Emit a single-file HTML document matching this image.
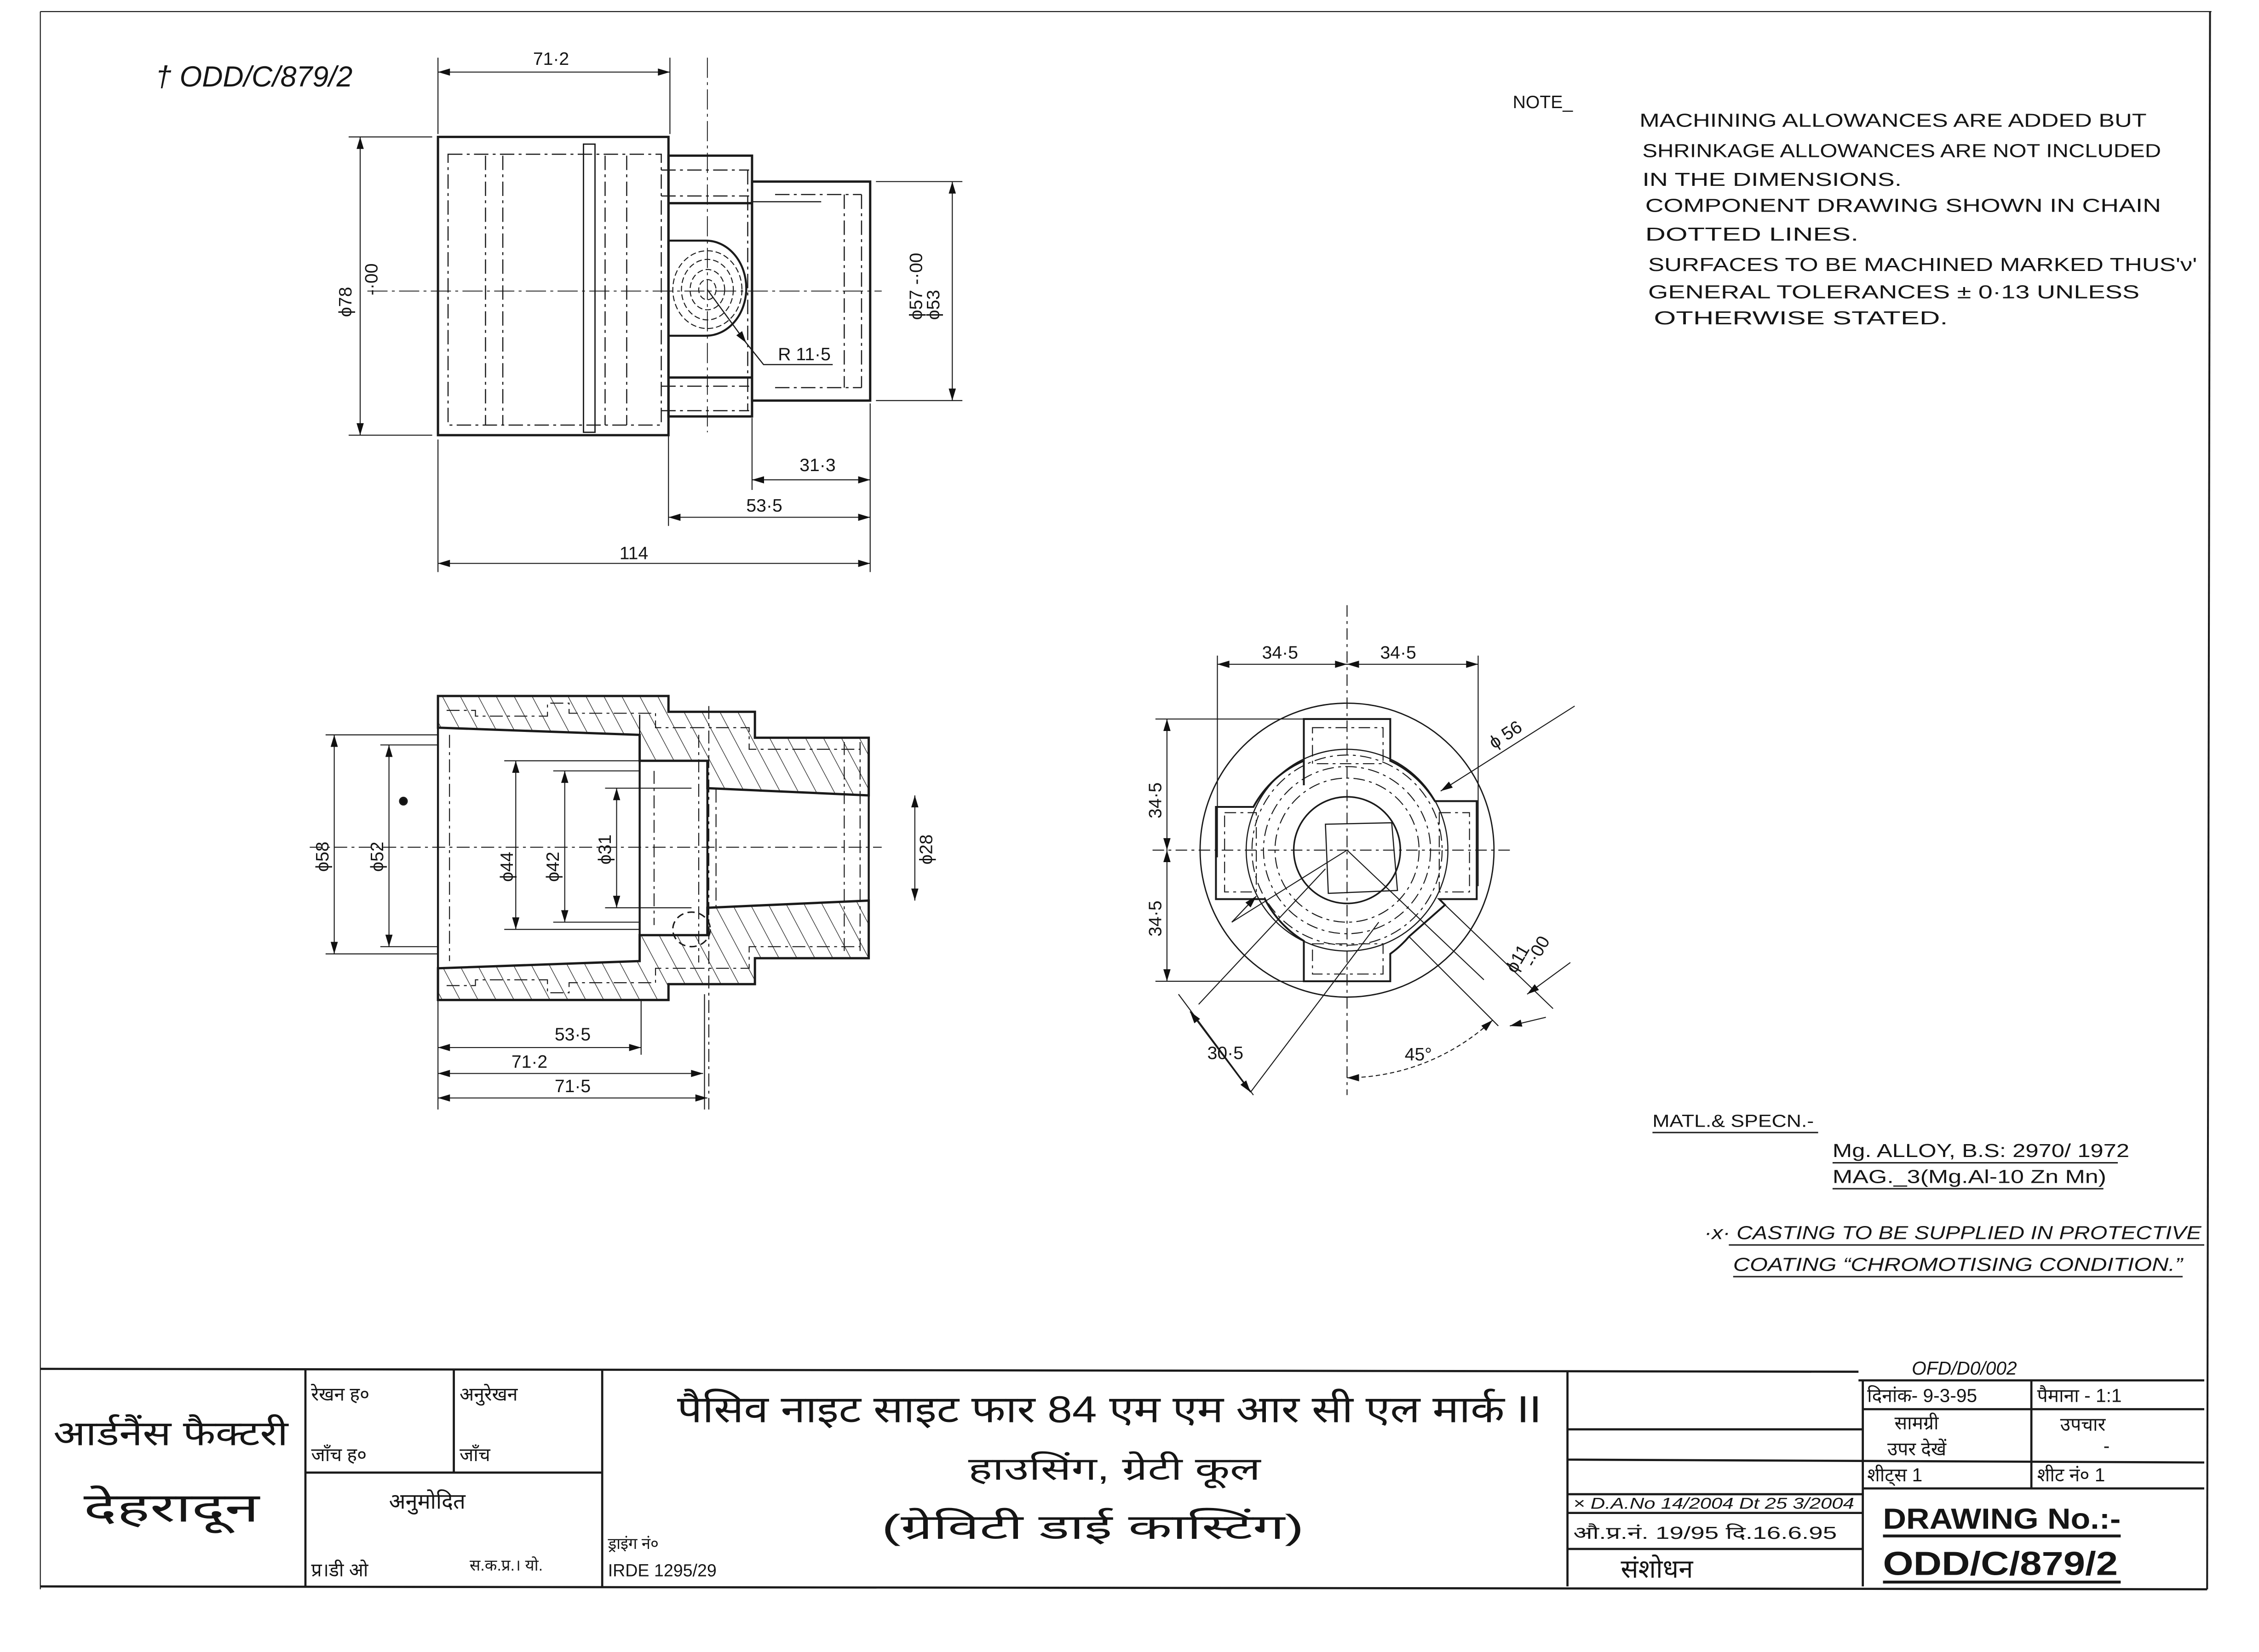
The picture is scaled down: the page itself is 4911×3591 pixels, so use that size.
<!DOCTYPE html>
<html><head><meta charset="utf-8"><style>
html,body{margin:0;padding:0;background:#fff}
svg{display:block}
text{font-family:"Liberation Sans","DejaVu Sans",sans-serif;fill:#151515}
.n{font-size:12.5px}
.d{font-size:12.5px}
.it{font-style:italic}
.hi{font-family:"Liberation Sans","DejaVu Sans","Noto Sans CJK SC",sans-serif}
</style></head><body>
<svg width="4911" height="3591" viewBox="0 0 1568 1146.5" xmlns="http://www.w3.org/2000/svg">
<defs>
<marker id="a" viewBox="0 0 10 6" refX="10" refY="3" markerWidth="9" markerHeight="5" markerUnits="userSpaceOnUse" orient="auto-start-reverse"><path d="M0,0L10,3L0,6z" fill="#111"/></marker>
<pattern id="h" width="11" height="11" patternUnits="userSpaceOnUse" patternTransform="rotate(-28)"><line x1="0" y1="0" x2="0" y2="11" stroke="#333" stroke-width="0.9"/></pattern>
</defs>
<rect width="1568" height="1146.5" fill="#fff"/>
<g fill="none" stroke="#1a1a1a" stroke-width="1.1">
<line x1="28" y1="8" x2="1535" y2="8" stroke-width="0.7"/>
<line x1="1534" y1="8" x2="1532" y2="1103" stroke-width="1.3"/>
<line x1="28" y1="8" x2="28" y2="1103" stroke-width="0.7"/>

<g stroke-width="1.6">
<rect x="304" y="95" width="160" height="207"/>
<rect x="464" y="108" width="58" height="181"/>
<rect x="522" y="126" width="82" height="152"/>
</g>
<g stroke-width="0.8" stroke-dasharray="10 3 2 3">
<rect x="311" y="107" width="148" height="188"/>
<line x1="337" y1="108" x2="337" y2="295"/><line x1="349" y1="108" x2="349" y2="295"/>
<line x1="420" y1="108" x2="420" y2="295"/><line x1="435" y1="108" x2="435" y2="295"/>
<line x1="459" y1="118" x2="520" y2="118"/><line x1="459" y1="136" x2="520" y2="136"/>
<line x1="459" y1="268" x2="520" y2="268"/><line x1="459" y1="285" x2="520" y2="285"/>
<line x1="519" y1="118" x2="519" y2="285"/>
<line x1="538" y1="135" x2="598" y2="135"/><line x1="538" y1="269" x2="598" y2="269"/>
<line x1="598" y1="135" x2="598" y2="269"/><line x1="586" y1="135" x2="586" y2="269"/>
</g>
<rect x="405" y="100" width="8" height="200" stroke-width="0.9"/>
<line x1="464" y1="141" x2="522" y2="141" stroke-width="1.6"/>
<line x1="464" y1="262" x2="522" y2="262" stroke-width="1.6"/>
<line x1="522" y1="140" x2="570" y2="140" stroke-width="0.8"/>
<path d="M464,167 H490 A28,33 0 0 1 490,233 H464" stroke-width="1.4"/>
<g stroke-width="0.7" stroke-dasharray="4 2">
<ellipse cx="491" cy="201" rx="24" ry="27"/><ellipse cx="491" cy="201" rx="18" ry="21"/>
<ellipse cx="491" cy="201" rx="12" ry="14"/><ellipse cx="491" cy="201" rx="6" ry="7"/>
</g>
<g stroke-width="0.6" stroke-dasharray="14 3 2 3">
<line x1="255" y1="202" x2="612" y2="202"/>
<line x1="491" y1="40" x2="491" y2="300"/>
</g>
<line x1="491" y1="201" x2="518" y2="238" stroke-width="0.8" marker-end="url(#a)"/>
<polyline points="518,238 530,253 578,253" stroke-width="0.8"/>
<g stroke-width="0.7">
<line x1="304" y1="40" x2="304" y2="93"/><line x1="465" y1="40" x2="465" y2="93"/>
<line x1="304" y1="50" x2="465" y2="50" marker-start="url(#a)" marker-end="url(#a)"/>
<line x1="242" y1="95" x2="300" y2="95"/><line x1="242" y1="302" x2="300" y2="302"/>
<line x1="250" y1="95" x2="250" y2="302" marker-start="url(#a)" marker-end="url(#a)"/>
<line x1="608" y1="126" x2="668" y2="126"/><line x1="608" y1="278" x2="668" y2="278"/>
<line x1="661" y1="126" x2="661" y2="278" marker-start="url(#a)" marker-end="url(#a)"/>
<line x1="304" y1="305" x2="304" y2="397"/><line x1="464" y1="290" x2="464" y2="365"/>
<line x1="522" y1="290" x2="522" y2="340"/><line x1="604" y1="280" x2="604" y2="397"/>
<line x1="522" y1="333" x2="604" y2="333" marker-start="url(#a)" marker-end="url(#a)"/>
<line x1="464" y1="359" x2="604" y2="359" marker-start="url(#a)" marker-end="url(#a)"/>
<line x1="304" y1="391" x2="604" y2="391" marker-start="url(#a)" marker-end="url(#a)"/>
</g>

<path d="M304,483H464V494H524V512H603V552L491,547V528H444V510L304,505Z" fill="url(#h)" stroke-width="1.6"/>
<path d="M304,694H464V683H524V665H603V625L491,630V649H444V667L304,672Z" fill="url(#h)" stroke-width="1.6"/>
<g stroke-width="1.4">
<line x1="304" y1="505" x2="304" y2="672"/>
<line x1="444" y1="528" x2="444" y2="649"/>
<line x1="491" y1="547" x2="491" y2="630"/>
<line x1="603" y1="552" x2="603" y2="625"/>
<line x1="444" y1="528" x2="444" y2="496" stroke-width="0.9"/>
</g>
<g stroke-width="0.7" stroke-dasharray="9 3 2 3">
<polyline points="310,493 330,493 330,497 380,497 380,488 395,488 395,495 430,495 455,495 455,505 480,505"/>
<polyline points="310,684 330,684 330,680 380,680 380,689 395,689 395,682 430,682 455,682 455,672 480,672"/>
<line x1="312" y1="510" x2="312" y2="667"/><line x1="454" y1="535" x2="454" y2="642"/>
<line x1="485" y1="510" x2="485" y2="668"/><line x1="497" y1="548" x2="497" y2="630"/>
<line x1="586" y1="515" x2="586" y2="663"/><line x1="597" y1="515" x2="597" y2="663"/>
<polyline points="480,505 520,505 520,520 597,520"/>
<polyline points="480,672 520,672 520,657 597,657"/>
<line x1="215" y1="588" x2="612" y2="588"/>
<line x1="492" y1="490" x2="492" y2="770"/>
</g>
<ellipse cx="480" cy="645" rx="13" ry="12" stroke-width="1" stroke-dasharray="5 3"/>
<circle cx="280" cy="556" r="2.5" fill="#111"/>
<g stroke-width="0.7">
<line x1="226" y1="510" x2="304" y2="510"/><line x1="226" y1="662" x2="304" y2="662"/>
<line x1="232" y1="510" x2="232" y2="662" marker-start="url(#a)" marker-end="url(#a)"/>
<line x1="264" y1="517" x2="304" y2="517"/><line x1="264" y1="657" x2="304" y2="657"/>
<line x1="270" y1="517" x2="270" y2="657" marker-start="url(#a)" marker-end="url(#a)"/>
<line x1="350" y1="528" x2="444" y2="528"/><line x1="350" y1="645" x2="444" y2="645"/>
<line x1="358" y1="528" x2="358" y2="645" marker-start="url(#a)" marker-end="url(#a)"/>
<line x1="384" y1="535" x2="444" y2="535"/><line x1="384" y1="640" x2="444" y2="640"/>
<line x1="392" y1="535" x2="392" y2="640" marker-start="url(#a)" marker-end="url(#a)"/>
<line x1="420" y1="547" x2="480" y2="547"/><line x1="420" y1="630" x2="480" y2="630"/>
<line x1="428" y1="547" x2="428" y2="630" marker-start="url(#a)" marker-end="url(#a)"/>
<line x1="635" y1="552" x2="635" y2="625" marker-start="url(#a)" marker-end="url(#a)"/>
<line x1="304" y1="694" x2="304" y2="770"/><line x1="445" y1="694" x2="445" y2="732"/>
<line x1="489" y1="690" x2="489" y2="770"/>
<line x1="304" y1="727" x2="445" y2="727" marker-start="url(#a)" marker-end="url(#a)"/>
<line x1="304" y1="745" x2="488" y2="745" marker-start="url(#a)" marker-end="url(#a)"/>
<line x1="304" y1="762" x2="491" y2="762" marker-start="url(#a)" marker-end="url(#a)"/>
</g>

<circle cx="935" cy="590" r="102" stroke-width="0.9"/>
<path d="M905,545 V499 H965 V528 A72,72 0 0 1 996,556 H1025 V624 H999 L1003,628 L978,650 A72,72 0 0 1 965,662 V681 H905 V653 A72,72 0 0 1 878,624 H844 V560 H870 A72,72 0 0 1 905,528 Z" stroke-width="1.3"/>
<g stroke-width="0.7" stroke-dasharray="8 3 2 3">
<rect x="911" y="505" width="49" height="25"/><rect x="850" y="564" width="22" height="55"/>
<rect x="999" y="564" width="21" height="55"/><rect x="911" y="655" width="49" height="21"/>
<circle cx="935" cy="590" r="66"/><circle cx="935" cy="590" r="58"/><circle cx="935" cy="590" r="50"/>
<line x1="800" y1="590" x2="1050" y2="590"/><line x1="935" y1="420" x2="935" y2="760"/>
</g>
<circle cx="935" cy="590" r="70" stroke-width="0.8"/>
<circle cx="935" cy="590" r="37" stroke-width="1.1"/>
<path d="M920,572 L966,571 L970,618 L922,620 Z" stroke-width="0.8"/>
<g stroke-width="0.7">
<line x1="845" y1="455" x2="845" y2="595"/><line x1="1026" y1="455" x2="1026" y2="615"/>
<line x1="845" y1="461" x2="935" y2="461" marker-start="url(#a)" marker-end="url(#a)"/>
<line x1="935" y1="461" x2="1026" y2="461" marker-start="url(#a)" marker-end="url(#a)"/>
<line x1="802" y1="499" x2="905" y2="499"/><line x1="802" y1="681" x2="905" y2="681"/>
<line x1="810" y1="499" x2="810" y2="590" marker-start="url(#a)" marker-end="url(#a)"/>
<line x1="810" y1="590" x2="810" y2="681" marker-start="url(#a)" marker-end="url(#a)"/>
<line x1="1093" y1="490" x2="1000" y2="549" marker-end="url(#a)"/>
<line x1="935" y1="590" x2="855" y2="640"/>
<line x1="855" y1="640" x2="872" y2="622" marker-end="url(#a)"/>
<line x1="935" y1="590" x2="1030" y2="680"/>
<line x1="1003" y1="628" x2="1078" y2="700"/><line x1="978" y1="650" x2="1040" y2="712"/>
<line x1="1073" y1="706" x2="1048" y2="712" marker-end="url(#a)"/>
<line x1="1090" y1="668" x2="1060" y2="690" marker-end="url(#a)"/>
<line x1="818" y1="690" x2="870" y2="760"/>
<line x1="920" y1="603" x2="832" y2="697"/>
<line x1="957" y1="640" x2="868" y2="758"/>
<line x1="826" y1="702" x2="868" y2="758" marker-start="url(#a)" marker-end="url(#a)"/>
<path d="M935,748 A150,150 0 0 0 1036,708" marker-start="url(#a)" marker-end="url(#a)" stroke-dasharray="3 2"/>
</g>

<g stroke-width="1.5">
<line x1="28" y1="950" x2="1290" y2="952"/>
<line x1="1290" y1="958" x2="1530" y2="958"/>
<line x1="28" y1="1101" x2="1532" y2="1103"/>
<line x1="212" y1="950" x2="212" y2="1101"/>
<line x1="418" y1="950" x2="418" y2="1101"/>
<line x1="1088" y1="952" x2="1088" y2="1101"/>
<line x1="1293" y1="958" x2="1293" y2="1101"/>
<line x1="1410" y1="958" x2="1410" y2="1033"/>
<line x1="315" y1="950" x2="315" y2="1022"/>
<line x1="212" y1="1022" x2="418" y2="1022"/>
<line x1="1088" y1="992" x2="1293" y2="992"/>
<line x1="1088" y1="1013" x2="1530" y2="1015"/>
<line x1="1293" y1="978" x2="1530" y2="978"/>
<line x1="1293" y1="1033" x2="1530" y2="1033"/>
<line x1="1088" y1="1037" x2="1293" y2="1037"/>
<line x1="1088" y1="1050" x2="1293" y2="1050"/>
<line x1="1088" y1="1075" x2="1293" y2="1075"/>
<line x1="1307" y1="1066" x2="1472" y2="1066" stroke-width="2"/>
<line x1="1307" y1="1098" x2="1472" y2="1098" stroke-width="2"/>
</g>
</g>

<text x="108" y="60" class="it" font-size="20">† ODD/C/879/2</text>
<text x="370" y="45" class="d">71·2</text>
<text x="244" y="220" class="d" transform="rotate(-90 244 220)">ϕ78</text>
<text x="262" y="205" class="d" transform="rotate(-90 262 205)">-·00</text>
<text x="640" y="222" class="d" transform="rotate(-90 640 222)">ϕ57 -·00</text>
<text x="652" y="222" class="d" transform="rotate(-90 652 222)">ϕ53</text>
<text x="540" y="250" class="d">R 11·5</text>
<text x="555" y="327" class="d">31·3</text>
<text x="518" y="355" class="d">53·5</text>
<text x="430" y="388" class="d">114</text>
<text x="228" y="605" class="d" transform="rotate(-90 228 605)">ϕ58</text>
<text x="266" y="605" class="d" transform="rotate(-90 266 605)">ϕ52</text>
<text x="356" y="612" class="d" font-size="14" transform="rotate(-90 356 612)">ϕ44</text>
<text x="388" y="612" class="d" font-size="14" transform="rotate(-90 388 612)">ϕ42</text>
<text x="424" y="600" class="d" font-size="14" transform="rotate(-90 424 600)">ϕ31</text>
<text x="647" y="600" class="d" transform="rotate(-90 647 600)">ϕ28</text>
<text x="385" y="722" class="d">53·5</text>
<text x="355" y="741" class="d">71·2</text>
<text x="385" y="758" class="d">71·5</text>
<text x="876" y="457" class="d" font-size="13">34·5</text>
<text x="958" y="457" class="d" font-size="13">34·5</text>
<text x="806" y="568" class="d" font-size="13" transform="rotate(-90 806 568)">34·5</text>
<text x="806" y="650" class="d" font-size="13" transform="rotate(-90 806 650)">34·5</text>
<text x="1037" y="520" class="d" font-size="13" transform="rotate(-33 1037 520)">ϕ 56</text>
<text x="1052" y="676" class="d" font-size="13" transform="rotate(-60 1052 676)">ϕ11</text>
<text x="1065" y="672" class="d" font-size="10" transform="rotate(-60 1065 672)">-·00</text>
<text x="838" y="735" class="d" font-size="13">30·5</text>
<text x="975" y="736" class="d" font-size="14">45°</text>

<text x="1050" y="75" class="n">NOTE_</text>
<g font-size="13" lengthAdjust="spacingAndGlyphs">
<text x="1138" y="88" textLength="352" lengthAdjust="spacingAndGlyphs">MACHINING ALLOWANCES ARE ADDED BUT</text>
<text x="1140" y="109" textLength="360" lengthAdjust="spacingAndGlyphs">SHRINKAGE ALLOWANCES ARE NOT INCLUDED</text>
<text x="1140" y="129" textLength="180" lengthAdjust="spacingAndGlyphs">IN THE DIMENSIONS.</text>
<text x="1142" y="147" textLength="358" lengthAdjust="spacingAndGlyphs">COMPONENT DRAWING SHOWN IN CHAIN</text>
<text x="1142" y="167" textLength="148" lengthAdjust="spacingAndGlyphs">DOTTED LINES.</text>
<text x="1144" y="188" textLength="381" lengthAdjust="spacingAndGlyphs">SURFACES TO BE MACHINED MARKED THUS'ν'</text>
<text x="1144" y="207" textLength="341" lengthAdjust="spacingAndGlyphs">GENERAL TOLERANCES ± 0·13 UNLESS</text>
<text x="1148" y="225" textLength="204" lengthAdjust="spacingAndGlyphs">OTHERWISE STATED.</text>
</g>
<text x="1147" y="782" font-size="12" textLength="112" lengthAdjust="spacingAndGlyphs">MATL.&amp; SPECN.-</text>
<line x1="1147" y1="786" x2="1262" y2="786" stroke="#222" stroke-width="1"/>
<text x="1272" y="803" font-size="13" textLength="206" lengthAdjust="spacingAndGlyphs">Mg. ALLOY, B.S: 2970/ 1972</text>
<line x1="1272" y1="807" x2="1470" y2="807" stroke="#222" stroke-width="1"/>
<text x="1272" y="821" font-size="13" textLength="190" lengthAdjust="spacingAndGlyphs">MAG._3(Mg.Al-10 Zn Mn)</text>
<line x1="1272" y1="825" x2="1460" y2="825" stroke="#222" stroke-width="1"/>
<text x="1183" y="860" class="it" font-size="13" textLength="345" lengthAdjust="spacingAndGlyphs">·x· CASTING TO BE SUPPLIED IN PROTECTIVE</text>
<line x1="1200" y1="864" x2="1530" y2="864" stroke="#222" stroke-width="1"/>
<text x="1203" y="882" class="it" font-size="13" textLength="312" lengthAdjust="spacingAndGlyphs">COATING “CHROMOTISING CONDITION.”</text>
<line x1="1203" y1="886" x2="1515" y2="886" stroke="#222" stroke-width="1"/>
<text x="1327" y="954" class="it" font-size="13">OFD/D0/002</text>

<g class="hi">
<text x="37" y="1003" font-size="24" textLength="163" lengthAdjust="spacingAndGlyphs">आर्डनैंस फैक्टरी</text>
<text x="58" y="1056" font-size="28" textLength="122" lengthAdjust="spacingAndGlyphs">देहरादून</text>
<text x="216" y="972" font-size="13">रेखन ह०</text>
<text x="319" y="972" font-size="13">अनुरेखन</text>
<text x="216" y="1014" font-size="13">जाँच ह०</text>
<text x="319" y="1014" font-size="13">जाँच</text>
<text x="270" y="1047" font-size="15">अनुमोदित</text>
<text x="216" y="1094" font-size="13">प्र।डी ओ</text>
<text x="326" y="1090" font-size="11">स.क.प्र.। यो.</text>
<text x="422" y="1075" font-size="11">ड्राइंग नं०</text>
<text x="422" y="1094" font-size="12">IRDE 1295/29</text>
<text x="470" y="987" font-size="26" textLength="600" lengthAdjust="spacingAndGlyphs">पैसिव नाइट साइट फार 84 एम एम आर सी एल मार्क II</text>
<text x="672" y="1027" font-size="22" textLength="203" lengthAdjust="spacingAndGlyphs">हाउसिंग, ग्रेटी कूल</text>
<text x="612" y="1068" font-size="24" textLength="293" lengthAdjust="spacingAndGlyphs">(ग्रेविटी डाई कास्टिंग)</text>
<text x="1296" y="973" font-size="13">दिनांक- 9-3-95</text>
<text x="1414" y="973" font-size="13">पैमाना -   1:1</text>
<text x="1315" y="992" font-size="13">सामग्री</text>
<text x="1310" y="1010" font-size="13">उपर देखें</text>
<text x="1430" y="993" font-size="13">उपचार</text>
<text x="1460" y="1008" font-size="13">-</text>
<text x="1296" y="1028" font-size="13">शीट्स       1</text>
<text x="1414" y="1028" font-size="13">शीट नं०    1</text>
<text x="1092" y="1047" class="it" font-size="11" textLength="195" lengthAdjust="spacingAndGlyphs">× D.A.No 14/2004 Dt 25 3/2004</text>
<text x="1092" y="1068" font-size="12" textLength="183" lengthAdjust="spacingAndGlyphs">औ.प्र.नं. 19/95 दि.16.6.95</text>
<text x="1125" y="1095" font-size="18">संशोधन</text>
</g>
<text x="1307" y="1061" font-size="20" font-weight="bold" textLength="165" lengthAdjust="spacingAndGlyphs">DRAWING No.:-</text>
<text x="1307" y="1093" font-size="23" font-weight="bold" textLength="163" lengthAdjust="spacingAndGlyphs">ODD/C/879/2</text>
</svg>
</body></html>
